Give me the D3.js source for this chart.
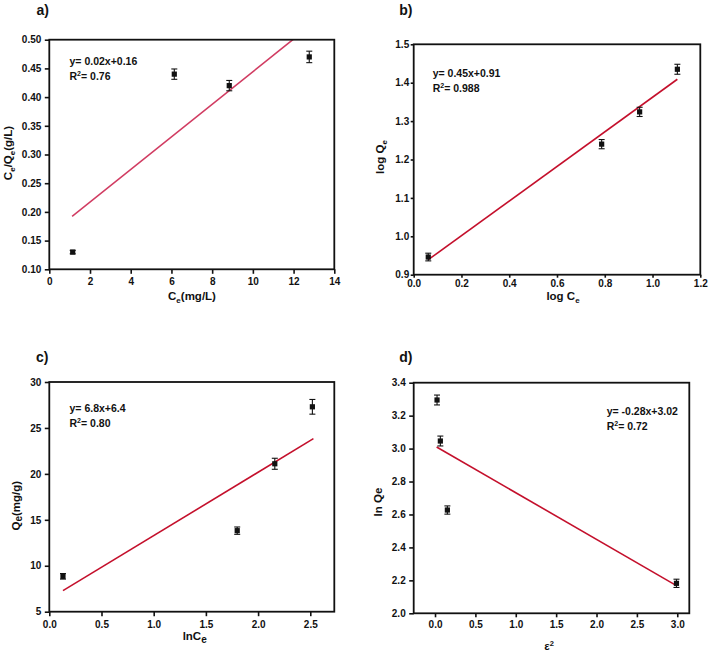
<!DOCTYPE html>
<html><head><meta charset="utf-8">
<script src="https://cdn.jsdelivr.net/npm/d3@7/dist/d3.min.js"></script>
<style>
html,body{margin:0;padding:0;background:#fff;}
svg{display:block;}
text{font-family:"Liberation Sans",Arial,sans-serif;font-weight:bold;fill:#111;}
</style></head>
<body>
<svg id="chart" width="709" height="653"></svg>
<script>
// ---- Panel a (Langmuir) ----
const aX = [1.15, 6.14, 8.84, 12.77];
const aY = [0.130, 0.440, 0.420, 0.470];
const aErr = [0.003, 0.009, 0.009, 0.010];
const aFitX = [1.12, 12.77];
const aFitY = [0.192, 0.523];
const aXTicks = [0, 2, 4, 6, 8, 10, 12, 14];
const aYTicks = [0.10, 0.15, 0.20, 0.25, 0.30, 0.35, 0.40, 0.45, 0.50];
const aEq = ["y= 0.02x+0.16", "0.76"];

// ---- Panel b (Freundlich) ----
const bX = [0.061, 0.787, 0.946, 1.104];
const bY = [0.946, 1.240, 1.324, 1.435];
const bErr = [0.010, 0.012, 0.012, 0.013];
const bFitX = [0.061, 1.104];
const bFitY = [0.939, 1.409];
const bXTicks = [0.0, 0.2, 0.4, 0.6, 0.8, 1.0, 1.2];
const bYTicks = [0.9, 1.0, 1.1, 1.2, 1.3, 1.4, 1.5];
const bEq = ["y= 0.45x+0.91", "0.988"];

// ---- Panel c (Temkin) ----
const cX = [0.131, 1.80, 2.16, 2.52];
const cY = [8.85, 13.82, 21.1, 27.3];
const cErr = [0.3, 0.4, 0.6, 0.8];
const cFitX = [0.131, 2.53];
const cFitY = [7.29, 23.83];
const cXTicks = [0.0, 0.5, 1.0, 1.5, 2.0, 2.5];
const cYTicks = [5, 10, 15, 20, 25, 30];
const cEq = ["y= 6.8x+6.4", "0.80"];

// ---- Panel d (D-R) ----
const dX = [0.025, 0.066, 0.153, 2.99];
const dY = [3.295, 3.046, 2.627, 2.182];
const dErr = [0.03, 0.03, 0.025, 0.025];
const dFitX = [0.02, 2.99];
const dFitY = [3.01, 2.168];
const dXTicks = [0.0, 0.5, 1.0, 1.5, 2.0, 2.5, 3.0];
const dYTicks = [2.0, 2.2, 2.4, 2.6, 2.8, 3.0, 3.2, 3.4];
const dEq = ["y= -0.28x+3.02", "0.72"];

const svg = d3.select("#chart");

function panel(cfg){
  const g = svg.append("g");
  const x = d3.scaleLinear().domain(cfg.xDom).range([cfg.L, cfg.R]);
  const y = d3.scaleLinear().domain(cfg.yDom).range([cfg.B, cfg.T]);
  const id = "clip" + cfg.name;
  svg.append("clipPath").attr("id", id).append("rect")
    .attr("x", cfg.L).attr("y", cfg.T).attr("width", cfg.R - cfg.L).attr("height", cfg.B - cfg.T);

  const xa = g.append("g").attr("transform", `translate(0,${cfg.B})`)
    .call(d3.axisBottom(x).tickValues(cfg.xTicks).tickSize(cfg.xts).tickPadding(cfg.xtp).tickFormat(d3.format(cfg.xFmt)));
  const ya = g.append("g").attr("transform", `translate(${cfg.L},0)`)
    .call(d3.axisLeft(y).tickValues(cfg.yTicks).tickSize(cfg.yts).tickPadding(cfg.ytp).tickFormat(d3.format(cfg.yFmt)));
  [xa, ya].forEach(a => {
    a.select(".domain").remove();
    a.selectAll("line").attr("stroke", "#111").attr("stroke-width", 1.6);
    a.selectAll("text").style("font-size", "10px").style("font-family", '"Liberation Sans",Arial,sans-serif').style("font-weight", "bold").attr("fill", "#111");
  });

  // fit line
  const fit = cfg.fitX.map((v, i) => [v, cfg.fitY[i]]);
  g.append("path").datum(fit)
    .attr("clip-path", `url(#${id})`)
    .attr("d", d3.line().x(d => x(d[0])).y(d => y(d[1])))
    .attr("stroke", cfg.lineColor).attr("stroke-width", 1.6).attr("fill", "none");

  // error bars + markers
  const pts = cfg.xs.map((v, i) => ({x: v, y: cfg.ys[i], e: cfg.err[i]}));
  const eb = g.append("g").attr("stroke", "#111").attr("stroke-width", 1.1);
  pts.forEach(p => {
    const px = x(p.x), y1 = y(p.y + p.e), y2 = y(p.y - p.e);
    eb.append("line").attr("x1", px).attr("x2", px).attr("y1", y1).attr("y2", y2);
    eb.append("line").attr("x1", px - 3).attr("x2", px + 3).attr("y1", y1).attr("y2", y1);
    eb.append("line").attr("x1", px - 3).attr("x2", px + 3).attr("y1", y2).attr("y2", y2);
  });
  g.selectAll("rect.pt").data(pts).enter().append("rect").attr("class", "pt")
    .attr("x", d => x(d.x) - 2.6).attr("y", d => y(d.y) - 2.6)
    .attr("width", 5.2).attr("height", 5.2).attr("fill", "#111");

  // frame
  g.append("rect").attr("x", cfg.L).attr("y", cfg.T).attr("width", cfg.R - cfg.L).attr("height", cfg.B - cfg.T)
    .attr("fill", "none").attr("stroke", "#111").attr("stroke-width", 1.8);

  // equation
  const eq = g.append("text").attr("x", cfg.eqX).attr("y", cfg.eqY).style("font-size", "10.5px");
  eq.text(cfg.eq[0]);
  const r2 = g.append("text").attr("x", cfg.eqX).attr("y", cfg.eqY + 15).style("font-size", "10.5px");
  r2.append("tspan").text("R");
  r2.append("tspan").attr("dy", -4).style("font-size", "7px").text("2");
  r2.append("tspan").attr("dy", 4).text("= " + cfg.eq[1]);

  // panel label
  g.append("text").attr("x", cfg.labX).attr("y", cfg.labY).style("font-size", "14px").text(cfg.name + ")");

  // x title
  const xt = g.append("text").attr("x", cfg.xtX).attr("y", cfg.xtY).attr("text-anchor", "middle").style("font-size", "11.5px");
  cfg.xTitle.forEach(s => {
    const t = xt.append("tspan").text(s.t);
    if (s.dy) t.attr("dy", s.dy);
    if (s.fs) t.style("font-size", s.fs);
  });
  const yt = g.append("text").attr("transform", `translate(${cfg.ytX},${cfg.ytY}) rotate(-90)`)
    .attr("text-anchor", "middle").style("font-size", "11.5px");
  cfg.yTitle.forEach(s => {
    const t = yt.append("tspan").text(s.t);
    if (s.dy) t.attr("dy", s.dy);
    if (s.fs) t.style("font-size", s.fs);
  });
}

panel({name: "a", xDom: [0, 14], yDom: [0.10, 0.50], L: 49.3, R: 334.3, T: 39.7, B: 269.3,
  xts: 4.5, xtp: 4.5, yts: 4.5, ytp: 3.5,
  xs: aX, ys: aY, err: aErr, fitX: aFitX, fitY: aFitY, xTicks: aXTicks, yTicks: aYTicks,
  xFmt: "d", yFmt: ".2f", lineColor: "#d13c62", eq: aEq, eqX: 69.5, eqY: 65,
  labX: 36.5, labY: 14.5, xtX: 192, xtY: 300, ytX: 12, ytY: 153,
  xTitle: [{t: "C"}, {t: "e", dy: 3, fs: "8px"}, {t: "(mg/L)", dy: -3}],
  yTitle: [{t: "C"}, {t: "e", dy: 3, fs: "8px"}, {t: "/Q", dy: -3}, {t: "e", dy: 3, fs: "8px"}, {t: "(g/L)", dy: -3}]});

panel({name: "b", xDom: [0, 1.2], yDom: [0.9, 1.5], L: 413.7, R: 700.3, T: 44.3, B: 274.7,
  xts: 3, xtp: 2, yts: 3, ytp: 1.5,
  xs: bX, ys: bY, err: bErr, fitX: bFitX, fitY: bFitY, xTicks: bXTicks, yTicks: bYTicks,
  xFmt: ".1f", yFmt: ".1f", lineColor: "#c4102c", eq: bEq, eqX: 432.7, eqY: 77.3,
  labX: 399.3, labY: 15, xtX: 563, xtY: 300, ytX: 384, ytY: 157,
  xTitle: [{t: "log C"}, {t: "e", dy: 3, fs: "8px"}],
  yTitle: [{t: "log Q"}, {t: "e", dy: 3, fs: "8px"}]});

panel({name: "c", xDom: [0, 2.73], yDom: [5, 30], L: 49.3, R: 334.3, T: 382, B: 611.7,
  xts: 4.5, xtp: 4.5, yts: 4.5, ytp: 3.5,
  xs: cX, ys: cY, err: cErr, fitX: cFitX, fitY: cFitY, xTicks: cXTicks, yTicks: cYTicks,
  xFmt: ".1f", yFmt: "d", lineColor: "#c4102c", eq: cEq, eqX: 69.5, eqY: 411.7,
  labX: 36, labY: 361.7, xtX: 194.7, xtY: 640, ytX: 19.5, ytY: 505.7,
  xTitle: [{t: "lnC"}, {t: "e", dy: 2.5, fs: "10px"}],
  yTitle: [{t: "Q"}, {t: "e", dy: 2.5, fs: "10px"}, {t: "(mg/g)", dy: -2.5}]});

panel({name: "d", xDom: [-0.264, 3.149], yDom: [2.0, 3.4], L: 413.7, R: 689.3, T: 382.7, B: 613.3,
  xts: 4, xtp: 3.5, yts: 4.5, ytp: 3.5,
  xs: dX, ys: dY, err: dErr, fitX: dFitX, fitY: dFitY, xTicks: dXTicks, yTicks: dYTicks,
  xFmt: ".1f", yFmt: ".1f", lineColor: "#c4102c", eq: dEq, eqX: 606.7, eqY: 415,
  labX: 399.3, labY: 361.7, xtX: 549, xtY: 650, ytX: 381.5, ytY: 502,
  xTitle: [{t: "ε"}, {t: "2", dy: -4, fs: "7.5px"}],
  yTitle: [{t: "ln Qe"}]});
</script>
</body></html>
